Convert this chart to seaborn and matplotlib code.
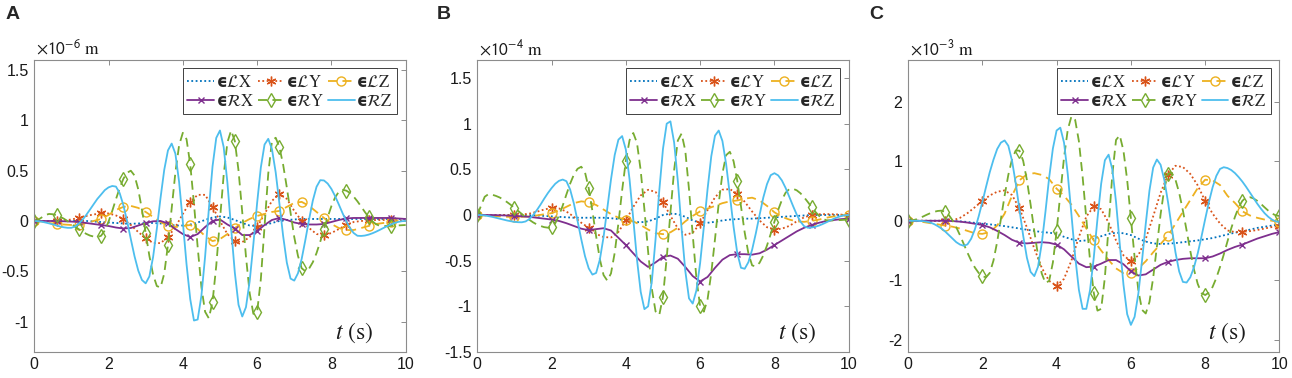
import numpy as np
import matplotlib
matplotlib.use("Agg")
import matplotlib.pyplot as plt
import seaborn as sns
from matplotlib.ticker import FuncFormatter

# sample times: fast curves (RY, RZ) every 0.1 s, slower ones every 0.2 s
t_fine = np.round(np.arange(101) * 0.1, 1)
t_coarse = np.round(np.arange(51) * 0.2, 1)

# ---------------- panel A (x1e-6 m) ----------------
a_lx = [0, 0, 0, 0, 0, 0, 0, 0, -0.005, -0.01,
        -0.015, -0.02, -0.025, -0.028, -0.025, -0.02, -0.02, -0.025, -0.035, -0.045,
        -0.045, -0.035, -0.015, 0.01, 0.035, 0.045, 0.035, 0.01, -0.02, -0.045,
        -0.05, -0.04, -0.02, 0.0, 0.01, 0.015, 0.02, 0.02, 0.02, 0.02,
        0.02, 0.02, 0.02, 0.02, 0.02, 0.02, 0.02, 0.02, 0.02, 0.02, 0.02]
a_ly = [0, 0, 0, 0.0, 0.005, 0.015, 0.03, 0.05, 0.065, 0.075,
        0.075, 0.055, 0.02, -0.04, -0.11, -0.17, -0.22, -0.22, -0.16, -0.06,
        0.07, 0.19, 0.26, 0.26, 0.14, 0.0, -0.13, -0.2, -0.21, -0.16,
        -0.06, 0.07, 0.2, 0.27, 0.22, 0.1, 0.0, -0.07, -0.13, -0.14,
        -0.12, -0.08, -0.04, -0.01, 0.0, 0.005, 0.01, 0.01, 0.01, 0.005, 0.0]
a_lz = [0, -0.005, -0.02, -0.03, -0.035, -0.04, -0.04, -0.02, 0.0, 0.02,
        0.06, 0.11, 0.14, 0.15, 0.13, 0.09, 0.04, -0.01, -0.05, -0.06,
        -0.05, -0.04, -0.08, -0.15, -0.2, -0.18, -0.13, -0.07, -0.02, 0.02,
        0.05, 0.07, 0.09, 0.1, 0.14, 0.18, 0.19, 0.15, 0.09, 0.03,
        -0.03, -0.07, -0.09, -0.09, -0.07, -0.05, -0.03, -0.02, -0.01, 0.0, 0.0]
a_rx = [0, 0, 0, 0, -0.003, -0.006, -0.01, -0.02, -0.03, -0.04,
        -0.05, -0.065, -0.075, -0.07, -0.045, -0.02, -0.003, 0.0, -0.025, -0.08,
        -0.13, -0.16, -0.13, -0.06, 0.0, 0.015, -0.035, -0.075, -0.14, -0.14,
        -0.1, -0.04, 0.01, 0.03, 0.01, -0.015, -0.03, -0.035, -0.035, -0.03,
        -0.01, 0.01, 0.025, 0.03, 0.03, 0.03, 0.03, 0.03, 0.03, 0.025, 0.02]
a_ry = [0, 0.01, 0.035, 0.06, 0.07, 0.067, 0.057, 0.042, 0.022, -0.002,
        -0.029, -0.056, -0.082, -0.107, -0.128, -0.145, -0.155, -0.16, -0.147, -0.094,
        -0.007, 0.1, 0.217, 0.328, 0.42, 0.48, 0.5, 0.452, 0.315, 0.113,
        -0.12, -0.348, -0.534, -0.647, -0.662, -0.523, -0.238, 0.124, 0.483, 0.753,
        0.877, 0.813, 0.562, 0.173, -0.261, -0.656, -0.903, -0.968, -0.804, -0.446,
        0.012, 0.459, 0.782, 0.9, 0.795, 0.5, 0.086, -0.354, -0.719, -0.924,
        -0.907, -0.581, -0.055, 0.471, 0.797, 0.828, 0.735, 0.561, 0.333, 0.083,
        -0.16, -0.347, -0.47, -0.5, -0.473, -0.41, -0.319, -0.206, -0.082, 0.038,
        0.148, 0.234, 0.291, 0.31, 0.302, 0.279, 0.242, 0.196, 0.144, 0.09,
        0.04, -0.002, -0.032, -0.048, -0.05, -0.05, -0.048, -0.046, -0.044, -0.042,
        -0.04]
a_rz = [0, -0.002, -0.007, -0.015, -0.024, -0.034, -0.045, -0.055, -0.063, -0.068,
        -0.068, -0.054, -0.027, 0.012, 0.06, 0.113, 0.167, 0.22, 0.263, 0.307,
        0.334, 0.348, 0.342, 0.277, 0.157, -0.002, -0.18, -0.351, -0.493, -0.587,
        -0.62, -0.551, -0.358, -0.079, 0.229, 0.509, 0.702, 0.77, 0.669, 0.388,
        -0.009, -0.43, -0.778, -0.99, -0.98, -0.745, -0.354, 0.115, 0.543, 0.826,
        0.9, 0.735, 0.382, -0.071, -0.513, -0.834, -0.95, -0.857, -0.598, -0.228,
        0.178, 0.531, 0.76, 0.817, 0.714, 0.484, 0.175, -0.147, -0.414, -0.573,
        -0.593, -0.52, -0.377, -0.187, 0.017, 0.203, 0.34, 0.406, 0.403, 0.372,
        0.319, 0.247, 0.164, 0.078, -0.002, -0.071, -0.12, -0.147, -0.149, -0.145,
        -0.136, -0.123, -0.107, -0.089, -0.07, -0.052, -0.035, -0.02, -0.009, -0.002,
        0.0]

# ---------------- panel B (x1e-4 m) ----------------
b_lx = [0, 0, 0, 0, 0, 0, 0, -0.002, -0.005, -0.01,
        -0.015, -0.02, -0.025, -0.03, -0.03, -0.03, -0.03, -0.03, -0.035, -0.045,
        -0.06, -0.075, -0.08, -0.07, -0.04, 0.0, 0.015, 0.01, -0.02, -0.06,
        -0.085, -0.085, -0.075, -0.06, -0.05, -0.045, -0.04, -0.04, -0.035, -0.03,
        -0.025, -0.02, -0.015, -0.01, -0.005, 0.0, 0.0, 0.0, 0.0, 0.0, 0.0]
b_ly = [0, 0, 0, 0, 0, 0.0, 0.005, 0.015, 0.035, 0.06,
        0.078, 0.072, 0.038, -0.019, -0.085, -0.14, -0.207, -0.242, -0.247, -0.186,
        -0.059, 0.089, 0.215, 0.277, 0.253, 0.143, -0.009, -0.147, -0.217, -0.195,
        -0.092, 0.054, 0.194, 0.278, 0.284, 0.235, 0.145, 0.038, -0.06, -0.134,
        -0.16, -0.15, -0.12, -0.07, -0.025, 0.0, 0.008, 0.01, 0.008, 0.004, 0.0]
b_lz = [0, -0.005, -0.01, -0.015, -0.02, -0.02, -0.02, -0.015, -0.005, 0.008,
        0.02, 0.05, 0.09, 0.13, 0.15, 0.14, 0.11, 0.06, 0.01, -0.03,
        -0.05, -0.07, -0.11, -0.16, -0.2, -0.21, -0.19, -0.14, -0.07, -0.01,
        0.04, 0.07, 0.1, 0.13, 0.15, 0.16, 0.18, 0.19, 0.16, 0.1,
        0.03, -0.02, -0.05, -0.07, -0.075, -0.065, -0.05, -0.03, -0.015, -0.005, 0.0]
b_rx = [0, 0, 0, -0.003, -0.006, -0.01, -0.015, -0.02, -0.03, -0.04,
        -0.05, -0.065, -0.09, -0.12, -0.15, -0.167, -0.155, -0.145, -0.17, -0.25,
        -0.33, -0.42, -0.51, -0.57, -0.52, -0.46, -0.445, -0.48, -0.57, -0.67,
        -0.73, -0.68, -0.58, -0.49, -0.44, -0.43, -0.43, -0.435, -0.42, -0.38,
        -0.33, -0.28, -0.23, -0.18, -0.14, -0.11, -0.085, -0.065, -0.055, -0.045, -0.04]
b_ry = [0, 0.1, 0.2, 0.229, 0.223, 0.21, 0.193, 0.17, 0.142, 0.112,
        0.079, 0.045, 0.011, -0.022, -0.052, -0.08, -0.103, -0.12, -0.133, -0.139,
        -0.134, -0.09, -0.007, 0.103, 0.226, 0.344, 0.442, 0.507, 0.53, 0.469,
        0.295, 0.044, -0.234, -0.485, -0.659, -0.72, -0.641, -0.415, -0.09, 0.27,
        0.595, 0.821, 0.9, 0.791, 0.488, 0.06, -0.404, -0.811, -1.058, -1.098,
        -0.895, -0.471, 0.024, 0.494, 0.818, 0.894, 0.707, 0.283, -0.213, -0.696,
        -1.003, -1.061, -0.925, -0.636, -0.265, 0.127, 0.456, 0.657, 0.694, 0.591,
        0.375, 0.095, -0.193, -0.423, -0.553, -0.565, -0.524, -0.444, -0.335, -0.207,
        -0.073, 0.055, 0.164, 0.244, 0.285, 0.288, 0.271, 0.239, 0.194, 0.142,
        0.088, 0.036, -0.009, -0.041, -0.058, -0.06, -0.059, -0.057, -0.055, -0.052,
        -0.05]
b_rz = [0, -0.001, -0.005, -0.012, -0.02, -0.03, -0.04, -0.05, -0.06, -0.068,
        -0.075, -0.079, -0.08, -0.071, -0.045, -0.003, 0.051, 0.112, 0.178, 0.24,
        0.295, 0.343, 0.375, 0.389, 0.371, 0.28, 0.128, -0.065, -0.267, -0.451,
        -0.585, -0.654, -0.636, -0.49, -0.241, 0.071, 0.39, 0.659, 0.827, 0.866,
        0.718, 0.39, -0.044, -0.489, -0.843, -1.033, -1.002, -0.727, -0.265, 0.267,
        0.727, 1.002, 1.028, 0.796, 0.372, -0.146, -0.612, -0.915, -0.972, -0.827,
        -0.527, -0.13, 0.284, 0.645, 0.871, 0.927, 0.812, 0.558, 0.219, -0.129,
        -0.418, -0.579, -0.59, -0.517, -0.38, -0.2, 0.0, 0.191, 0.339, 0.437,
        0.459, 0.435, 0.38, 0.298, 0.2, 0.1, 0.005, -0.072, -0.123, -0.14,
        -0.137, -0.129, -0.116, -0.099, -0.08, -0.06, -0.041, -0.024, -0.011, -0.003,
        0.0]

# ---------------- panel C (x1e-3 m) ----------------
c_lx = [0, 0, 0, 0, 0, 0, -0.005, -0.01, -0.02, -0.035,
        -0.05, -0.06, -0.075, -0.09, -0.11, -0.13, -0.15, -0.17, -0.19, -0.2,
        -0.22, -0.27, -0.31, -0.34, -0.33, -0.3, -0.26, -0.22, -0.2, -0.21,
        -0.24, -0.3, -0.35, -0.38, -0.39, -0.385, -0.375, -0.36, -0.345, -0.33,
        -0.31, -0.29, -0.26, -0.23, -0.2, -0.18, -0.15, -0.12, -0.1, -0.08, -0.06]
c_ly = [0, 0, 0, 0, 0, 0, 0.006, 0.049, 0.128, 0.228,
        0.334, 0.425, 0.488, 0.51, 0.432, 0.209, -0.112, -0.468, -0.789, -1.012,
        -1.09, -0.976, -0.667, -0.271, 0.07, 0.242, 0.194, -0.031, -0.33, -0.581,
        -0.68, -0.582, -0.306, 0.075, 0.47, 0.777, 0.924, 0.903, 0.787, 0.594,
        0.33, 0.12, -0.046, -0.163, -0.19, -0.185, -0.175, -0.155, -0.13, -0.105, -0.09]
c_lz = [0, -0.005, -0.02, -0.04, -0.06, -0.08, -0.1, -0.13, -0.17, -0.21,
        -0.22, -0.19, -0.08, 0.12, 0.42, 0.68, 0.78, 0.8, 0.77, 0.7,
        0.54, 0.42, 0.27, 0.08, -0.13, -0.33, -0.5, -0.66, -0.8, -0.88,
        -0.87, -0.8, -0.68, -0.53, -0.39, -0.25, -0.05, 0.15, 0.35, 0.55,
        0.69, 0.68, 0.6, 0.42, 0.3, 0.16, 0.09, 0.05, 0.02, 0.0, -0.02]
c_rx = [0, 0, 0, 0, 0, 0, -0.005, -0.015, -0.03, -0.05,
        -0.07, -0.11, -0.17, -0.24, -0.32, -0.37, -0.38, -0.37, -0.36, -0.37,
        -0.4, -0.48, -0.6, -0.72, -0.78, -0.77, -0.72, -0.66, -0.66, -0.73,
        -0.85, -0.92, -0.9, -0.82, -0.74, -0.69, -0.66, -0.64, -0.63, -0.63,
        -0.63, -0.6, -0.55, -0.49, -0.44, -0.4, -0.35, -0.3, -0.26, -0.22, -0.19]
c_ry = [0, 0.005, 0.02, 0.043, 0.07, 0.1, 0.128, 0.15, 0.165, 0.17,
        0.151, 0.095, 0.006, -0.11, -0.244, -0.39, -0.536, -0.67, -0.786, -0.875,
        -0.931, -0.95, -0.877, -0.67, -0.354, 0.026, 0.42, 0.77, 1.034, 1.181,
        1.178, 1.008, 0.687, 0.273, -0.176, -0.585, -0.886, -1.046, -1.009, -0.701,
        -0.18, 0.454, 1.063, 1.529, 1.756, 1.694, 1.338, 0.744, 0.037, -0.667,
        -1.208, -1.51, -1.481, -0.951, -0.093, 0.774, 1.358, 1.436, 1.178, 0.684,
        0.045, -0.613, -1.164, -1.497, -1.558, -1.364, -0.958, -0.432, 0.11, 0.543,
        0.789, 0.805, 0.69, 0.47, 0.172, -0.163, -0.509, -0.823, -1.062, -1.213,
        -1.248, -1.207, -1.111, -0.961, -0.776, -0.568, -0.347, -0.13, 0.063, 0.225,
        0.334, 0.392, 0.397, 0.376, 0.336, 0.284, 0.225, 0.169, 0.122, 0.091,
        0.08]
c_rz = [0, 0, 0, -0.002, -0.006, -0.015, -0.03, -0.055, -0.09, -0.13,
        -0.18, -0.24, -0.3, -0.36, -0.4, -0.42, -0.397, -0.302, -0.144, 0.069,
        0.311, 0.568, 0.815, 1.026, 1.205, 1.313, 1.35, 1.261, 1.01, 0.63,
        0.19, -0.248, -0.62, -0.859, -0.93, -0.772, -0.383, 0.152, 0.727, 1.214,
        1.517, 1.565, 1.313, 0.786, 0.104, -0.599, -1.16, -1.48, -1.48, -1.166,
        -0.622, 0.03, 0.624, 1.017, 1.111, 0.865, 0.316, -0.387, -1.073, -1.569,
        -1.75, -1.614, -1.227, -0.669, -0.051, 0.507, 0.894, 1.03, 0.941, 0.687,
        0.312, -0.118, -0.53, -0.852, -1.027, -1.038, -0.949, -0.779, -0.547, -0.268,
        0.028, 0.313, 0.563, 0.754, 0.871, 0.9, 0.886, 0.853, 0.802, 0.735,
        0.659, 0.572, 0.478, 0.384, 0.289, 0.204, 0.127, 0.066, 0.019, -0.01,
        -0.02]

panels = [
    ("A", -6, (-1.3, 1.6), [-1, -0.5, 0, 0.5, 1, 1.5], 0.6,
     {"LX": a_lx, "LY": a_ly, "LZ": a_lz, "RX": a_rx, "RY": a_ry, "RZ": a_rz}),
    ("B", -4, (-1.5, 1.7), [-1.5, -1, -0.5, 0, 0.5, 1, 1.5], 1.0,
     {"LX": b_lx, "LY": b_ly, "LZ": b_lz, "RX": b_rx, "RY": b_ry, "RZ": b_rz}),
    ("C", -3, (-2.2, 2.7), [-2, -1, 0, 1, 2], 1.0,
     {"LX": c_lx, "LY": c_ly, "LZ": c_lz, "RX": c_rx, "RY": c_ry, "RZ": c_rz}),
]

dot = (0, (1, 1.4))
dash = (0, (5, 3))
styles = {
    "LX": dict(color="#0072BD", ls=dot, marker=None, ms=0, label="ϵ" + r"$\mathcal{L}\mathrm{X}$"),
    "LY": dict(color="#D95319", ls=dot, marker=(6, 2, 0), ms=7, label="ϵ" + r"$\mathcal{L}\mathrm{Y}$"),
    "LZ": dict(color="#EDB120", ls=dash, marker="o", ms=6.5, label="ϵ" + r"$\mathcal{L}\mathrm{Z}$"),
    "RX": dict(color="#7E2F8E", ls="-", marker="x", ms=5, label="ϵ" + r"$\mathcal{R}\mathrm{X}$"),
    "RY": dict(color="#77AC30", ls=dash, marker="d", ms=7.5, label="ϵ" + r"$\mathcal{R}\mathrm{Y}$"),
    "RZ": dict(color="#4DBEEE", ls="-", marker=None, ms=0, label="ϵ" + r"$\mathcal{R}\mathrm{Z}$"),
}

sns.set_theme(style="white")
plt.rcParams["font.family"] = ["Liberation Sans", "DejaVu Sans"]
plt.rcParams["mathtext.fontset"] = "stix"
plt.rcParams["axes.unicode_minus"] = False

fig = plt.figure(figsize=(12.92, 3.78), dpi=100)
lefts = [0.0265, 0.3694, 0.7028]
letter_x = [0.004, 0.338, 0.673]
spine_col = "#8c8c8c"

for (letter, expo, ylim, yticks, mark_dt, data), left, lx in zip(panels, lefts, letter_x):
    ax = fig.add_axes([left, 0.0696, 0.2875, 0.7714])
    for key in ["LX", "LY", "LZ", "RX", "RY", "RZ"]:
        st = styles[key]
        y = data[key]
        t = t_fine if len(y) == 101 else t_coarse
        step = int(round(mark_dt / (t[1] - t[0])))
        kw = dict(color=st["color"], linestyle=st["ls"], linewidth=1.3, label=st["label"])
        if st["marker"] is not None:
            kw.update(marker=st["marker"], markevery=step, markersize=st["ms"],
                      markerfacecolor="none", markeredgecolor=st["color"], markeredgewidth=1.0)
        sns.lineplot(x=t, y=y, ax=ax, estimator=None, sort=False, errorbar=None, **kw)

    ax.set_xlim(0, 10)
    ax.set_ylim(*ylim)
    ax.set_xticks([0, 2, 4, 6, 8, 10])
    ax.set_yticks(yticks)
    ax.yaxis.set_major_formatter(FuncFormatter(lambda v, p: f"{v:g}"))
    ax.tick_params(direction="in", length=3.5, width=0.7, color=spine_col,
                   top=True, right=True, labelsize=11.5, labelcolor="#1a1a1a", pad=4)
    for sp in ax.spines.values():
        sp.set_color(spine_col)
        sp.set_linewidth(0.8)
    ax.set_xlabel("")
    ax.set_ylabel("")

    handles, labels = ax.get_legend_handles_labels()
    order = [0, 3, 1, 4, 2, 5]
    leg = ax.legend([handles[i] for i in order], [labels[i] for i in order], ncol=3,
                    loc="upper right", prop={"family": "DejaVu Sans", "weight": "bold", "size": 12},
                    handlelength=1.6, handletextpad=0.1,
                    columnspacing=0.2, borderpad=0.25, labelspacing=0.1, borderaxespad=0.5,
                    fancybox=False, framealpha=1, edgecolor="#404040")
    leg.get_frame().set_linewidth(0.7)

    ax.text(0.005, 1.008, rf"$\times\mathsf{{10}}^{{\mathsf{{{expo}}}}}\ \mathrm{{m}}$",
            transform=ax.transAxes, ha="left", va="bottom", fontsize=12.5, color="#1a1a1a")
    ax.text(0.86, 0.065, r"$t\ \mathrm{(s)}$", transform=ax.transAxes,
            ha="center", va="center", fontsize=17, color="#1a1a1a")
    fig.text(lx, 0.985, letter, ha="left", va="top", fontsize=14, fontweight="bold")

fig.savefig("out.png", dpi=100)
